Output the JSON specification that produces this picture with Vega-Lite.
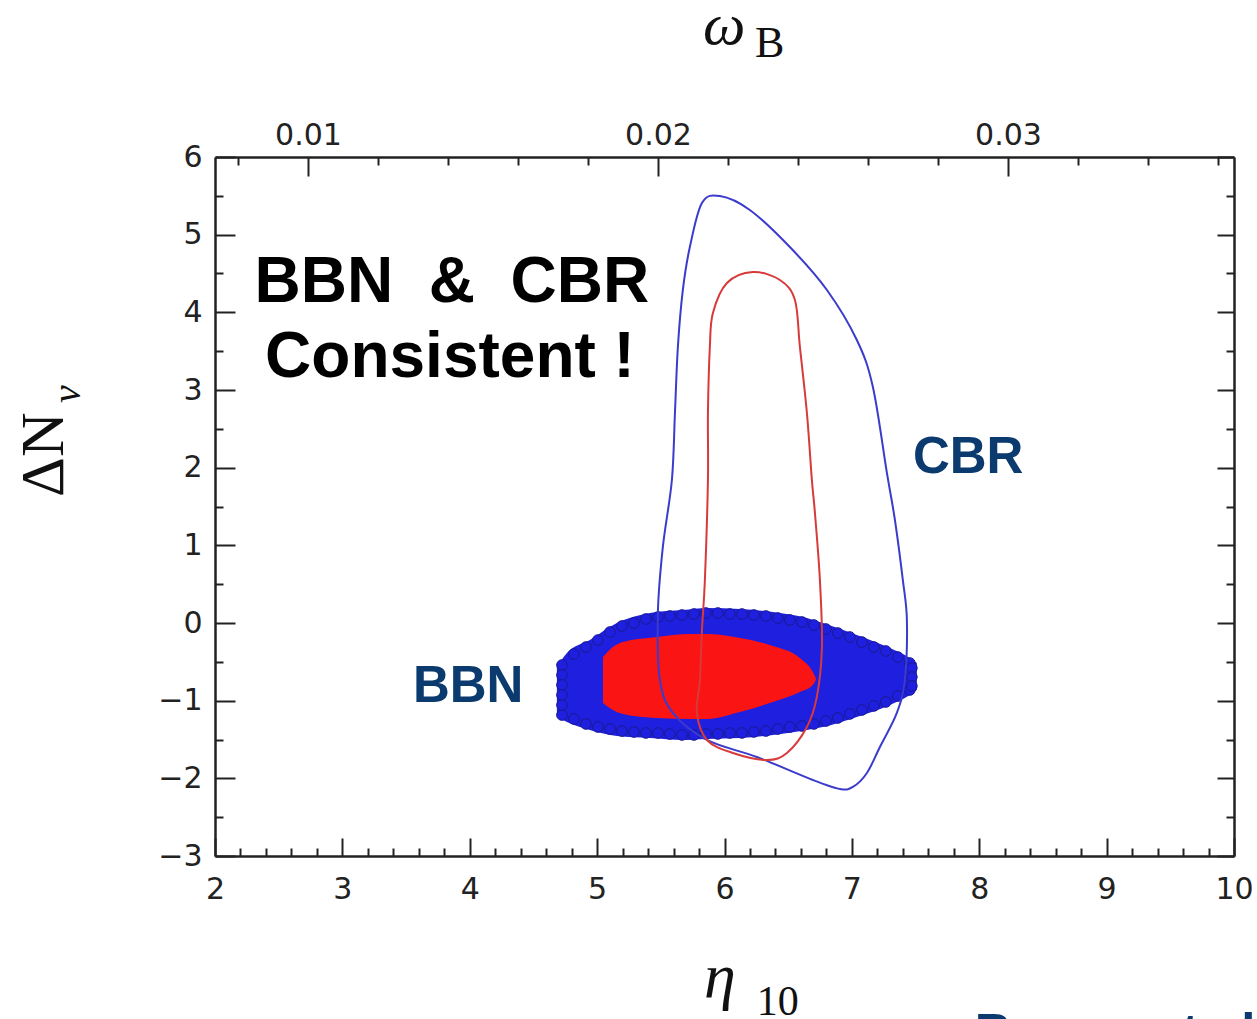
{
  "$schema": "https://vega.github.io/schema/vega-lite/v6.json",
  "width": 1019,
  "height": 699,
  "autosize": {"type": "none"},
  "padding": {"left": 215, "top": 157, "right": 23, "bottom": 163},
  "background": "white",
  "config": {
    "view": {"stroke": null},
    "axis": {"grid": false, "domainColor": "#222222", "domainWidth": 2.5, "tickColor": "#222222", "tickWidth": 2, "labelFont": "DejaVu Sans", "labelFontSize": 30, "labelColor": "#222222", "labelOverlap": false, "labelFlush": false, "title": null}
  },
  "datasets": {
    "bbnBlue": [
      {"eta": 4.684, "top": -0.566, "bot": -1.210},
      {"eta": 4.763, "top": -0.386, "bot": -1.274},
      {"eta": 4.943, "top": -0.219, "bot": -1.377},
      {"eta": 5.155, "top": 0.000, "bot": -1.455},
      {"eta": 5.414, "top": 0.129, "bot": -1.481},
      {"eta": 5.673, "top": 0.167, "bot": -1.506},
      {"eta": 5.862, "top": 0.193, "bot": -1.493},
      {"eta": 6.121, "top": 0.180, "bot": -1.481},
      {"eta": 6.380, "top": 0.142, "bot": -1.442},
      {"eta": 6.647, "top": 0.064, "bot": -1.377},
      {"eta": 6.772, "top": 0.000, "bot": -1.339},
      {"eta": 7.039, "top": -0.154, "bot": -1.210},
      {"eta": 7.298, "top": -0.322, "bot": -1.056},
      {"eta": 7.455, "top": -0.451, "bot": -0.927},
      {"eta": 7.510, "top": -0.515, "bot": -0.862}
    ],
    "bbnDots": [
      {"eta": 4.724, "dn": -0.541}, {"eta": 4.818, "dn": -0.399}, {"eta": 4.912, "dn": -0.309}, {"eta": 5.006, "dn": -0.219},
      {"eta": 5.100, "dn": -0.116}, {"eta": 5.195, "dn": -0.038}, {"eta": 5.289, "dn": 0.000}, {"eta": 5.383, "dn": 0.052},
      {"eta": 5.477, "dn": 0.077}, {"eta": 5.571, "dn": 0.090}, {"eta": 5.666, "dn": 0.103}, {"eta": 5.760, "dn": 0.116},
      {"eta": 5.854, "dn": 0.129}, {"eta": 5.948, "dn": 0.129}, {"eta": 6.042, "dn": 0.116}, {"eta": 6.137, "dn": 0.116},
      {"eta": 6.231, "dn": 0.103}, {"eta": 6.325, "dn": 0.090}, {"eta": 6.419, "dn": 0.064}, {"eta": 6.513, "dn": 0.039},
      {"eta": 6.608, "dn": 0.013}, {"eta": 6.702, "dn": -0.026}, {"eta": 6.796, "dn": -0.077}, {"eta": 6.890, "dn": -0.129},
      {"eta": 6.984, "dn": -0.180}, {"eta": 7.079, "dn": -0.245}, {"eta": 7.173, "dn": -0.309}, {"eta": 7.267, "dn": -0.360},
      {"eta": 7.361, "dn": -0.438}, {"eta": 7.455, "dn": -0.515},
      {"eta": 4.724, "dn": -1.185}, {"eta": 4.818, "dn": -1.236}, {"eta": 4.912, "dn": -1.300}, {"eta": 5.006, "dn": -1.339},
      {"eta": 5.100, "dn": -1.365}, {"eta": 5.195, "dn": -1.391}, {"eta": 5.289, "dn": -1.403}, {"eta": 5.383, "dn": -1.416},
      {"eta": 5.477, "dn": -1.416}, {"eta": 5.571, "dn": -1.429}, {"eta": 5.666, "dn": -1.442}, {"eta": 5.760, "dn": -1.442},
      {"eta": 5.854, "dn": -1.429}, {"eta": 5.948, "dn": -1.429}, {"eta": 6.042, "dn": -1.416}, {"eta": 6.137, "dn": -1.416},
      {"eta": 6.231, "dn": -1.403}, {"eta": 6.325, "dn": -1.391}, {"eta": 6.419, "dn": -1.365}, {"eta": 6.513, "dn": -1.339},
      {"eta": 6.608, "dn": -1.326}, {"eta": 6.702, "dn": -1.300}, {"eta": 6.796, "dn": -1.262}, {"eta": 6.890, "dn": -1.223},
      {"eta": 6.984, "dn": -1.171}, {"eta": 7.079, "dn": -1.120}, {"eta": 7.173, "dn": -1.068}, {"eta": 7.267, "dn": -1.017},
      {"eta": 7.361, "dn": -0.940}, {"eta": 7.455, "dn": -0.863},
      {"eta": 4.724, "dn": -0.670}, {"eta": 4.724, "dn": -0.798}, {"eta": 4.724, "dn": -0.927}, {"eta": 4.724, "dn": -1.056},
      {"eta": 7.471, "dn": -0.580}, {"eta": 7.471, "dn": -0.695}, {"eta": 7.471, "dn": -0.811}
    ],
    "bbnRed": [
      {"eta": 5.046, "top": -0.438, "bot": -1.030},
      {"eta": 5.124, "top": -0.309, "bot": -1.120},
      {"eta": 5.203, "top": -0.244, "bot": -1.172},
      {"eta": 5.469, "top": -0.180, "bot": -1.223},
      {"eta": 5.728, "top": -0.141, "bot": -1.236},
      {"eta": 5.862, "top": -0.141, "bot": -1.236},
      {"eta": 6.121, "top": -0.193, "bot": -1.146},
      {"eta": 6.380, "top": -0.296, "bot": -1.017},
      {"eta": 6.592, "top": -0.451, "bot": -0.888},
      {"eta": 6.694, "top": -0.631, "bot": -0.798},
      {"eta": 6.717, "top": -0.708, "bot": -0.734}
    ],
    "cbrBlue": [
      {"i": 0, "eta": 5.964, "dn": 5.498},
      {"i": 1, "eta": 6.199, "dn": 5.318},
      {"i": 2, "eta": 6.513, "dn": 4.841},
      {"i": 3, "eta": 6.804, "dn": 4.288},
      {"i": 4, "eta": 7.039, "dn": 3.644},
      {"i": 5, "eta": 7.165, "dn": 3.039},
      {"i": 6, "eta": 7.275, "dn": 1.932},
      {"i": 7, "eta": 7.338, "dn": 1.326},
      {"i": 8, "eta": 7.400, "dn": 0.554},
      {"i": 9, "eta": 7.432, "dn": 0.039},
      {"i": 10, "eta": 7.416, "dn": -0.734},
      {"i": 11, "eta": 7.353, "dn": -1.158},
      {"i": 12, "eta": 7.220, "dn": -1.596},
      {"i": 13, "eta": 7.118, "dn": -1.931},
      {"i": 14, "eta": 7.008, "dn": -2.111},
      {"i": 15, "eta": 6.906, "dn": -2.137},
      {"i": 16, "eta": 6.694, "dn": -2.021},
      {"i": 17, "eta": 6.254, "dn": -1.725},
      {"i": 18, "eta": 5.862, "dn": -1.506},
      {"i": 19, "eta": 5.595, "dn": -1.158},
      {"i": 20, "eta": 5.493, "dn": -0.734},
      {"i": 21, "eta": 5.477, "dn": 0.129},
      {"i": 22, "eta": 5.516, "dn": 0.979},
      {"i": 23, "eta": 5.587, "dn": 1.841},
      {"i": 24, "eta": 5.611, "dn": 2.704},
      {"i": 25, "eta": 5.634, "dn": 3.554},
      {"i": 26, "eta": 5.673, "dn": 4.288},
      {"i": 27, "eta": 5.728, "dn": 4.841},
      {"i": 28, "eta": 5.823, "dn": 5.408}
    ],
    "cbrRed": [
      {"i": 0, "eta": 6.223, "dn": 4.519},
      {"i": 1, "eta": 6.435, "dn": 4.416},
      {"i": 2, "eta": 6.553, "dn": 4.159},
      {"i": 3, "eta": 6.592, "dn": 3.554},
      {"i": 4, "eta": 6.647, "dn": 2.704},
      {"i": 5, "eta": 6.686, "dn": 1.841},
      {"i": 6, "eta": 6.710, "dn": 1.417},
      {"i": 7, "eta": 6.749, "dn": 0.554},
      {"i": 8, "eta": 6.765, "dn": -0.309},
      {"i": 9, "eta": 6.725, "dn": -0.952},
      {"i": 10, "eta": 6.647, "dn": -1.339},
      {"i": 11, "eta": 6.490, "dn": -1.673},
      {"i": 12, "eta": 6.333, "dn": -1.764},
      {"i": 13, "eta": 6.066, "dn": -1.673},
      {"i": 14, "eta": 5.862, "dn": -1.506},
      {"i": 15, "eta": 5.783, "dn": -1.158},
      {"i": 16, "eta": 5.807, "dn": -0.734},
      {"i": 17, "eta": 5.823, "dn": -0.090},
      {"i": 18, "eta": 5.846, "dn": 0.554},
      {"i": 19, "eta": 5.870, "dn": 1.841},
      {"i": 20, "eta": 5.870, "dn": 2.704},
      {"i": 21, "eta": 5.885, "dn": 3.554},
      {"i": 22, "eta": 5.909, "dn": 3.991},
      {"i": 23, "eta": 6.019, "dn": 4.378}
    ]
  },
  "resolve": {"scale": {"x": "independent"}, "axis": {"x": "independent", "y": "independent"}},
  "layer": [
    {
      "data": {"name": "bbnBlue"},
      "mark": {"type": "area", "color": "#1f1fe0", "interpolate": "monotone"},
      "encoding": {
        "x": {"field": "eta", "type": "quantitative", "scale": {"domain": [2, 10], "nice": false, "zero": false},
              "axis": {"orient": "bottom", "values": [2, 3, 4, 5, 6, 7, 8, 9, 10], "tickSize": -18, "labelPadding": 36, "format": "d"}},
        "y": {"field": "top", "type": "quantitative", "scale": {"domain": [-3, 6], "nice": false, "zero": false},
              "axis": {"orient": "left", "values": [-3, -2, -1, 0, 1, 2, 3, 4, 5, 6], "tickSize": -20, "labelPadding": 33, "format": "d"}},
        "y2": {"field": "bot"}
      }
    },
    {
      "data": {"name": "bbnDots"},
      "mark": {"type": "point", "shape": "circle", "filled": true, "size": 113, "fill": "#1f1fe0", "stroke": "#1a1a8c", "strokeWidth": 1, "opacity": 1},
      "encoding": {
        "x": {"field": "eta", "type": "quantitative", "scale": {"domain": [2, 10], "nice": false, "zero": false}, "axis": null},
        "y": {"field": "dn", "type": "quantitative", "axis": null}
      }
    },
    {
      "data": {"name": "bbnRed"},
      "mark": {"type": "area", "color": "#fa1414", "interpolate": "monotone"},
      "encoding": {
        "x": {"field": "eta", "type": "quantitative", "scale": {"domain": [2, 10], "nice": false, "zero": false},
              "axis": {"orient": "bottom", "values": [2.2, 2.4, 2.6, 2.8, 3.2, 3.4, 3.6, 3.8, 4.2, 4.4, 4.6, 4.8, 5.2, 5.4, 5.6, 5.8, 6.2, 6.4, 6.6, 6.8, 7.2, 7.4, 7.6, 7.8, 8.2, 8.4, 8.6, 8.8, 9.2, 9.4, 9.6, 9.8], "tickSize": -8, "labels": false, "domain": false}},
        "y": {"field": "top", "type": "quantitative",
              "axis": {"orient": "left", "values": [-2.5, -1.5, -0.5, 0.5, 1.5, 2.5, 3.5, 4.5, 5.5], "tickSize": -8, "labels": false, "domain": false}},
        "y2": {"field": "bot"}
      }
    },
    {
      "mark": {"type": "rule", "strokeDash": [20, 10], "strokeWidth": 2.5, "color": "#333333", "opacity": 0.85},
      "encoding": {"y": {"datum": 0, "type": "quantitative", "axis": null}}
    },
    {
      "data": {"name": "cbrBlue"},
      "mark": {"type": "line", "color": "#3b3bcc", "strokeWidth": 2, "interpolate": "cardinal-closed"},
      "encoding": {
        "x": {"field": "eta", "type": "quantitative", "scale": {"domain": [2, 10], "nice": false, "zero": false}, "axis": null},
        "y": {"field": "dn", "type": "quantitative",
              "axis": {"orient": "right", "values": [-3, -2, -1, 0, 1, 2, 3, 4, 5, 6], "tickSize": -17, "labels": false}},
        "order": {"field": "i", "type": "quantitative"}
      }
    },
    {
      "data": {"name": "cbrRed"},
      "mark": {"type": "line", "color": "#d83a3a", "strokeWidth": 2, "interpolate": "cardinal-closed"},
      "encoding": {
        "x": {"field": "eta", "type": "quantitative", "scale": {"domain": [2, 10], "nice": false, "zero": false}, "axis": null},
        "y": {"field": "dn", "type": "quantitative",
              "axis": {"orient": "right", "values": [-2.5, -1.5, -0.5, 0.5, 1.5, 2.5, 3.5, 4.5, 5.5], "tickSize": -8, "labels": false, "domain": false}},
        "order": {"field": "i", "type": "quantitative"}
      }
    },
    {
      "data": {"values": [{"w": 0.02189, "y": 7.45, "t": "ω"}]},
      "mark": {"type": "text", "font": "Liberation Serif", "fontStyle": "italic", "fontSize": 60, "align": "center", "baseline": "alphabetic", "color": "#111111"},
      "encoding": {
        "x": {"field": "w", "type": "quantitative", "scale": {"domain": [0.007343, 0.036457], "nice": false, "zero": false},
              "axis": {"orient": "top", "values": [0.01, 0.02, 0.03], "tickSize": -19, "labelPadding": 26, "format": ".2f"}},
        "y": {"field": "y", "type": "quantitative", "axis": null},
        "text": {"field": "t"}
      }
    },
    {
      "data": {"values": [{"w": 0.02277, "y": 7.287, "t": "B"}]},
      "mark": {"type": "text", "font": "Liberation Serif", "fontSize": 44, "align": "left", "baseline": "alphabetic", "color": "#111111"},
      "encoding": {
        "x": {"field": "w", "type": "quantitative", "scale": {"domain": [0.007343, 0.036457], "nice": false, "zero": false},
              "axis": {"orient": "top", "values": [0.008, 0.012, 0.014, 0.016, 0.018, 0.022, 0.024, 0.026, 0.028, 0.032, 0.034, 0.036], "tickSize": -8, "labels": false, "domain": false}},
        "y": {"field": "y", "type": "quantitative", "axis": null},
        "text": {"field": "t"}
      }
    },
    {
      "data": {"values": [{"x": 5.964, "y": -4.815, "t": "η"}]},
      "mark": {"type": "text", "font": "Liberation Serif", "fontStyle": "italic", "fontSize": 64, "align": "center", "baseline": "alphabetic", "color": "#111111"},
      "encoding": {
        "x": {"field": "x", "type": "quantitative", "scale": {"domain": [2, 10], "nice": false, "zero": false}, "axis": null},
        "y": {"field": "y", "type": "quantitative", "axis": null},
        "text": {"field": "t"}
      }
    },
    {
      "data": {"values": [{"x": 6.254, "y": -5.047, "t": "10"}]},
      "mark": {"type": "text", "font": "Liberation Serif", "fontSize": 42, "align": "left", "baseline": "alphabetic", "color": "#111111"},
      "encoding": {
        "x": {"field": "x", "type": "quantitative", "scale": {"domain": [2, 10], "nice": false, "zero": false}, "axis": null},
        "y": {"field": "y", "type": "quantitative", "axis": null},
        "text": {"field": "t"}
      }
    },
    {
      "data": {"values": [{"x": 0.807, "y": 1.623, "t": "ΔN"}]},
      "mark": {"type": "text", "font": "Liberation Serif", "fontSize": 62, "angle": 270, "align": "left", "baseline": "alphabetic", "color": "#111111"},
      "encoding": {
        "x": {"field": "x", "type": "quantitative", "scale": {"domain": [2, 10], "nice": false, "zero": false}, "axis": null},
        "y": {"field": "y", "type": "quantitative", "axis": null},
        "text": {"field": "t"}
      }
    },
    {
      "data": {"values": [{"x": 0.94, "y": 2.833, "t": "ν"}]},
      "mark": {"type": "text", "font": "Liberation Serif", "fontStyle": "italic", "fontSize": 40, "angle": 270, "align": "left", "baseline": "alphabetic", "color": "#111111"},
      "encoding": {
        "x": {"field": "x", "type": "quantitative", "scale": {"domain": [2, 10], "nice": false, "zero": false}, "axis": null},
        "y": {"field": "y", "type": "quantitative", "axis": null},
        "text": {"field": "t"}
      }
    },
    {
      "data": {"values": [
        {"x": 3.860, "y": 4.133, "t": "BBN\u00a0 &\u00a0 CBR"},
        {"x": 3.845, "y": 3.167, "t": "Consistent !"}
      ]},
      "mark": {"type": "text", "font": "Liberation Sans", "fontWeight": "bold", "fontSize": 64, "align": "center", "baseline": "alphabetic", "color": "#000000"},
      "encoding": {
        "x": {"field": "x", "type": "quantitative", "scale": {"domain": [2, 10], "nice": false, "zero": false}, "axis": null},
        "y": {"field": "y", "type": "quantitative", "axis": null},
        "text": {"field": "t"}
      }
    },
    {
      "data": {"values": [
        {"x": 7.479, "y": 1.932, "t": "CBR"},
        {"x": 3.554, "y": -1.017, "t": "BBN"},
        {"x": 7.965, "y": -5.497, "t": "Barger et al."}
      ]},
      "mark": {"type": "text", "font": "Liberation Sans", "fontWeight": "bold", "fontSize": 51, "align": "left", "baseline": "alphabetic", "color": "#0b3a6e"},
      "encoding": {
        "x": {"field": "x", "type": "quantitative", "scale": {"domain": [2, 10], "nice": false, "zero": false}, "axis": null},
        "y": {"field": "y", "type": "quantitative", "axis": null},
        "text": {"field": "t"}
      }
    }
  ]
}
